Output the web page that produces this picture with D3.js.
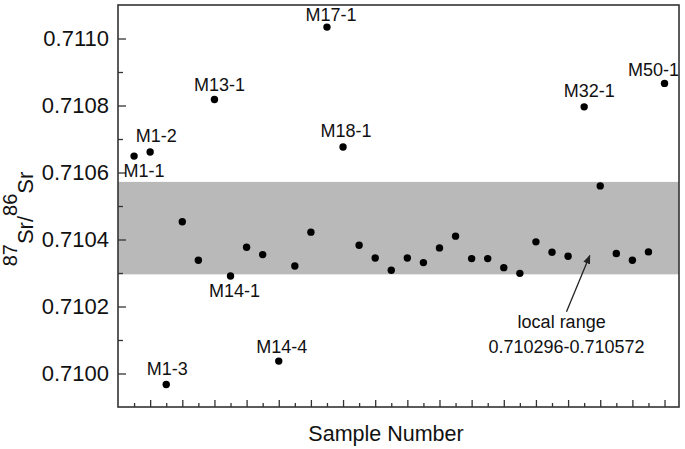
<!DOCTYPE html>
<html>
<head>
<meta charset="utf-8">
<script src="https://cdn.jsdelivr.net/npm/d3@7"></script>
<style>
  body { margin: 0; background: #fff; }
  svg { display: block; font-family: Arial, "Liberation Sans", sans-serif; }
</style>
</head>
<body>
<svg id="chart" width="685" height="449"></svg>
<script>
// sample order 1..34
const samples = d3.range(1, 35)
const ratios = [
  0.710649, 0.710661, 0.709967, 0.710453, 0.710338, 0.710818, 0.710291, 0.710377,
  0.710355, 0.710037, 0.710321, 0.710422, 0.711034, 0.710676, 0.710383, 0.710345,
  0.710308, 0.710345, 0.710331, 0.710375, 0.710410, 0.710343, 0.710343, 0.710316,
  0.710299, 0.710393, 0.710362, 0.710350, 0.710796, 0.710560, 0.710358, 0.710338,
  0.710363, 0.710866
]
// named samples (sample index -> label)
const labelIdx = [1, 2, 3, 6, 7, 10, 13, 14, 29, 34]
const labelText = ['M1-1', 'M1-2', 'M1-3', 'M13-1', 'M14-1', 'M14-4', 'M17-1', 'M18-1', 'M32-1', 'M50-1']
const localRange = [0.710296, 0.710572]
const yTicks = [0.7100, 0.7102, 0.7104, 0.7106, 0.7108, 0.7110]
const yMinor = [0.7101, 0.7103, 0.7105, 0.7107, 0.7109]

//
// layout
//
const W = 685, H = 449
const m = { left: 118, right: 6, top: 5, bottom: 42 }
const TEXT = '#111'
const AXIS = '#333'

// label offsets from their point, px (dx = centre, dy = baseline)
const labelOff = [
  [10, 21], [6, -10], [1, -10], [5, -8], [4, 21],
  [3, -8], [4, -6], [3, -10], [5, -10], [-11, -7]
]

const svg = d3.select('#chart')
const x = d3.scaleLinear().domain([0, 34.9]).range([m.left, W - m.right])
const y = d3.scaleLinear().domain([0.7099, 0.7111]).range([H - m.bottom, m.top])

// local range band
svg.append('rect')
  .attr('x', x(0)).attr('width', x(34.9) - x(0))
  .attr('y', y(localRange[1])).attr('height', y(localRange[0]) - y(localRange[1]))
  .attr('fill', '#b9b9b9')

// y axis (inward ticks)
const yAxis = svg.append('g')
  .attr('transform', `translate(${m.left},0)`)
  .call(d3.axisLeft(y).tickValues(yTicks).tickFormat(d3.format('.4f'))
    .tickSizeInner(-8).tickSizeOuter(0).tickPadding(9))
yAxis.select('.domain').remove()
yAxis.selectAll('line').attr('stroke', AXIS).attr('stroke-width', 1.3)
yAxis.selectAll('text').attr('font-size', 22).attr('fill', TEXT)
  .attr('font-family', 'Arial, "Liberation Sans", sans-serif')

const yAxisMinor = svg.append('g')
  .attr('transform', `translate(${m.left},0)`)
  .call(d3.axisLeft(y).tickValues(yMinor).tickFormat('').tickSizeInner(-5).tickSizeOuter(0))
yAxisMinor.select('.domain').remove()
yAxisMinor.selectAll('line').attr('stroke', AXIS).attr('stroke-width', 1.3)

// x axis: ticks at every sample, longer on even ones, no labels
const xAxis = svg.append('g')
  .attr('transform', `translate(0,${H - m.bottom})`)
  .call(d3.axisBottom(x).tickValues(samples).tickFormat('').tickSizeOuter(0))
xAxis.select('.domain').remove()
xAxis.selectAll('.tick line')
  .attr('y2', d => d % 2 === 0 ? -7 : -4)
  .attr('stroke', AXIS).attr('stroke-width', 1.3)

// frame
svg.append('rect')
  .attr('x', x(0)).attr('y', y(0.7111))
  .attr('width', x(34.9) - x(0)).attr('height', y(0.7099) - y(0.7111))
  .attr('fill', 'none').attr('stroke', AXIS).attr('stroke-width', 1.6)

// points
svg.append('g').selectAll('circle')
  .data(ratios)
  .join('circle')
  .attr('cx', (d, i) => x(samples[i]))
  .attr('cy', d => y(d))
  .attr('r', 3.7)
  .attr('fill', '#000')

// point labels
svg.append('g').selectAll('text')
  .data(labelIdx)
  .join('text')
  .attr('x', (d, i) => x(d) + labelOff[i][0])
  .attr('y', (d, i) => y(ratios[d - 1]) + labelOff[i][1])
  .attr('text-anchor', 'middle')
  .attr('font-size', 18)
  .attr('fill', TEXT)
  .text((d, i) => labelText[i])

// arrow annotation
svg.append('defs').append('marker')
  .attr('id', 'head').attr('viewBox', '0 0 10 10')
  .attr('refX', 9).attr('refY', 5)
  .attr('markerWidth', 9).attr('markerHeight', 9)
  .attr('markerUnits', 'userSpaceOnUse')
  .attr('orient', 'auto')
  .append('path').attr('d', 'M0,1 L10,5 L0,9 Z').attr('fill', '#222')

svg.append('line')
  .attr('x1', x(27.9)).attr('y1', y(0.710184))
  .attr('x2', x(29.35)).attr('y2', y(0.710352))
  .attr('stroke', '#222').attr('stroke-width', 1.3)
  .attr('marker-end', 'url(#head)')

const note = svg.append('text')
  .attr('text-anchor', 'middle').attr('font-size', 18).attr('fill', TEXT)
note.append('tspan').attr('x', x(27.6)).attr('y', y(0.710136)).text('local range')
note.append('tspan').attr('x', x(27.9)).attr('y', y(0.710060)).text('0.710296-0.710572')

// axis titles
svg.append('text')
  .attr('x', 386).attr('y', 441)
  .attr('text-anchor', 'middle').attr('font-size', 21.5).attr('fill', TEXT)
  .text('Sample Number')

const yt = svg.append('text')
  .attr('transform', 'translate(33,219) rotate(-90)')
  .attr('text-anchor', 'middle').attr('font-size', 22).attr('fill', TEXT)
yt.append('tspan').attr('font-size', 20).attr('dy', -16).text('87')
yt.append('tspan').attr('dy', 16).text('Sr/')
yt.append('tspan').attr('font-size', 20).attr('dy', -16).text('86')
yt.append('tspan').attr('dy', 16).text('Sr')
</script>
</body>
</html>
